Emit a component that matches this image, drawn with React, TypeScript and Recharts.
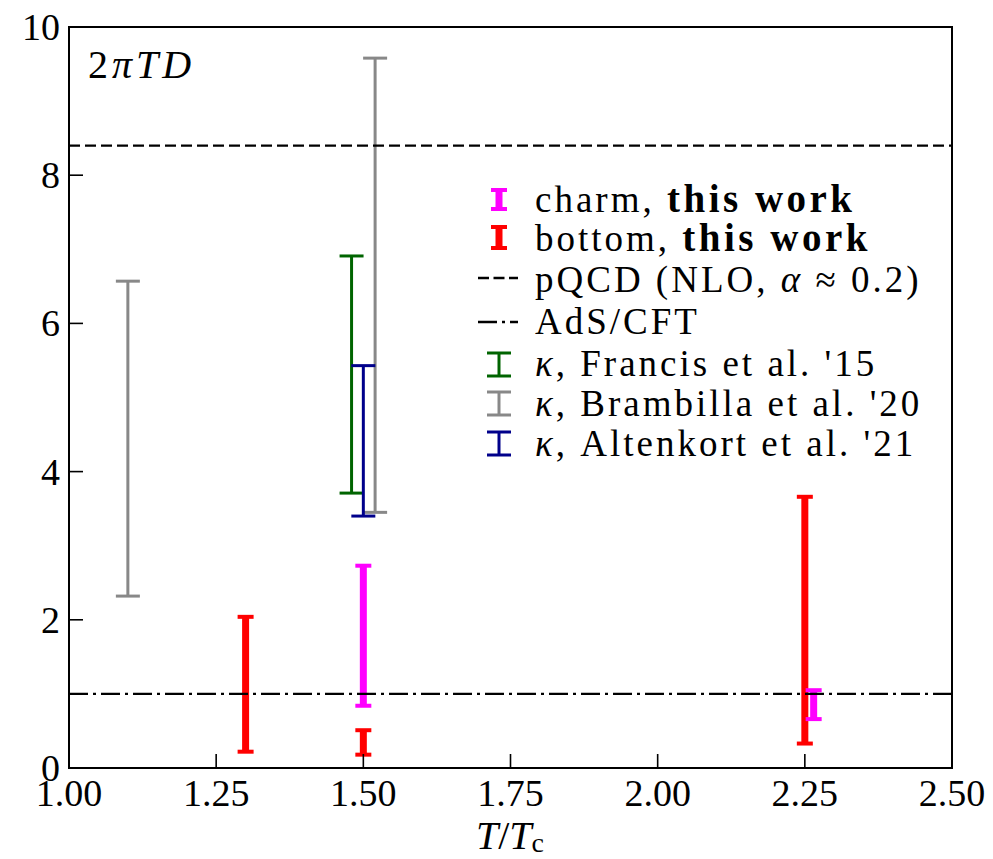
import React from 'react';
import { ComposedChart, Scatter, XAxis, YAxis, ErrorBar, ReferenceLine, ReferenceArea } from 'recharts';

// T/Tc positions and 2πTD ranges (low, high)
const charmT = [1.5, 2.265];
const charmLow = [0.84, 0.66];
const charmHigh = [2.73, 1.05];

const bottomT = [1.3, 1.5, 2.25];
const bottomLow = [0.22, 0.18, 0.33];
const bottomHigh = [2.04, 0.51, 3.66];

const francisT = [1.48];
const francisLow = [3.71];
const francisHigh = [6.91];

const brambillaT = [1.1, 1.52];
const brambillaLow = [2.32, 3.45];
const brambillaHigh = [6.57, 9.58];

const altenkortT = [1.5];
const altenkortLow = [3.4];
const altenkortHigh = [5.43];

const pqcdValue = 8.4;
const adsCftValue = 1.0;

const xTicks = [1.0, 1.25, 1.5, 1.75, 2.0, 2.25, 2.5];
const yTicks = [0, 2, 4, 6, 8, 10];

const FONT = "'Liberation Serif', 'Times New Roman', serif";

function toBars(t: number[], lo: number[], hi: number[]) {
  return t.map((x, i) => ({ x, y: (lo[i] + hi[i]) / 2, err: (hi[i] - lo[i]) / 2 }));
}

const charmData = toBars(charmT, charmLow, charmHigh);
const bottomData = toBars(bottomT, bottomLow, bottomHigh);
const francisData = toBars(francisT, francisLow, francisHigh);
const brambillaData = toBars(brambillaT, brambillaLow, brambillaHigh);
const altenkortData = toBars(altenkortT, altenkortLow, altenkortHigh);

const NoShape = () => <g />;

const XTick = (props: any) => {
  const { x, y, payload } = props;
  return (
    <g>
      <line x1={x} x2={x} y1={y} y2={y - 14} stroke="#000" strokeWidth={1.6} />
      <text x={x} y={y + 38} textAnchor="middle" fontSize={38} fontFamily={FONT} fill="#000">
        {Number(payload.value).toFixed(2)}
      </text>
    </g>
  );
};

const YTick = (props: any) => {
  const { x, y, payload } = props;
  return (
    <g>
      <line x1={x} x2={x + 14} y1={y} y2={y} stroke="#000" strokeWidth={1.6} />
      <text x={x - 9} y={y + 13} textAnchor="end" fontSize={38} fontFamily={FONT} fill="#000">
        {String(payload.value)}
      </text>
    </g>
  );
};

const ThickI = ({ cx, y1, y2, color }: { cx: number; y1: number; y2: number; color: string }) => (
  <g>
    <line x1={cx} x2={cx} y1={y1} y2={y2} stroke={color} strokeWidth={7} />
    <line x1={cx - 8} x2={cx + 8} y1={y1} y2={y1} stroke={color} strokeWidth={4} />
    <line x1={cx - 8} x2={cx + 8} y1={y2} y2={y2} stroke={color} strokeWidth={4} />
  </g>
);

const ThinI = ({ cx, y1, y2, color }: { cx: number; y1: number; y2: number; color: string }) => (
  <g>
    <line x1={cx} x2={cx} y1={y1} y2={y2} stroke={color} strokeWidth={3} />
    <line x1={cx - 12} x2={cx + 12} y1={y1} y2={y1} stroke={color} strokeWidth={3} />
    <line x1={cx - 12} x2={cx + 12} y1={y2} y2={y2} stroke={color} strokeWidth={3} />
  </g>
);

export default function App() {
  const legendX = 535;
  const legendFont = 37;
  const ls = 3;
  const bls = 3.5;
  return (
    <div style={{ position: 'relative', width: 993, height: 859, margin: '-8px -8px 0 -8px' }}>
      <ComposedChart width={993} height={859} margin={{ top: 27, right: 41, bottom: 31, left: 9 }}>
        <XAxis
          type="number"
          dataKey="x"
          domain={[1, 2.5]}
          ticks={xTicks}
          interval={0}
          height={60}
          allowDataOverflow
          axisLine={false}
          tickLine={false}
          tickSize={0}
          tickMargin={0}
          tick={<XTick />}
        />
        <YAxis
          type="number"
          dataKey="y"
          domain={[0, 10]}
          ticks={yTicks}
          interval={0}
          width={60}
          allowDataOverflow
          axisLine={false}
          tickLine={false}
          tickSize={0}
          tickMargin={0}
          tick={<YTick />}
        />
        <ReferenceArea x1={1} x2={2.5} y1={0} y2={10} fill="none" fillOpacity={0} stroke="#000" strokeWidth={2} />
        <Scatter data={bottomData} shape={NoShape} isAnimationActive={false}>
          <ErrorBar dataKey="err" direction="y" width={0} stroke="#ff0000" strokeWidth={7} isAnimationActive={false} />
          <ErrorBar dataKey="err" direction="y" width={8} stroke="#ff0000" strokeWidth={4} isAnimationActive={false} />
        </Scatter>
        <Scatter data={charmData} shape={NoShape} isAnimationActive={false}>
          <ErrorBar dataKey="err" direction="y" width={0} stroke="#ff00ff" strokeWidth={7} isAnimationActive={false} />
          <ErrorBar dataKey="err" direction="y" width={8} stroke="#ff00ff" strokeWidth={4} isAnimationActive={false} />
        </Scatter>
        <Scatter data={francisData} shape={NoShape} isAnimationActive={false}>
          <ErrorBar dataKey="err" direction="y" width={12} stroke="#006400" strokeWidth={3} isAnimationActive={false} />
        </Scatter>
        <Scatter data={brambillaData} shape={NoShape} isAnimationActive={false}>
          <ErrorBar dataKey="err" direction="y" width={12} stroke="#888888" strokeWidth={3} isAnimationActive={false} />
        </Scatter>
        <Scatter data={altenkortData} shape={NoShape} isAnimationActive={false}>
          <ErrorBar dataKey="err" direction="y" width={12} stroke="#00008b" strokeWidth={3} isAnimationActive={false} />
        </Scatter>
        <ReferenceLine y={pqcdValue} stroke="#000" strokeWidth={2.3} strokeDasharray="11 5" />
        <ReferenceLine y={adsCftValue} stroke="#000" strokeWidth={2.3} strokeDasharray="19 5 3 5" />
      </ComposedChart>
      <svg
        width={993}
        height={859}
        style={{ position: 'absolute', left: 0, top: 0, pointerEvents: 'none' }}
        fontFamily={FONT}
      >
        <text x={88} y={78} fontSize={40} letterSpacing={4} fill="#000">
          <tspan>2</tspan>
          <tspan fontStyle="italic">πTD</tspan>
        </text>
        <text x={510} y={849} fontSize={40} textAnchor="middle" fill="#000">
          <tspan fontStyle="italic">T</tspan>
          <tspan>/</tspan>
          <tspan fontStyle="italic">T</tspan>
          <tspan fontSize={28} dy={3}>c</tspan>
        </text>

        {/* legend */}
        <ThickI cx={499} y1={190} y2={209} color="#ff00ff" />
        <text x={legendX} y={212} fontSize={legendFont} letterSpacing={ls} fill="#000">
          <tspan>charm, </tspan>
          <tspan fontWeight="bold" fontSize={39} letterSpacing={bls}>this work</tspan>
        </text>
        <ThickI cx={499} y1={227} y2={248} color="#ff0000" />
        <text x={legendX} y={251} fontSize={legendFont} letterSpacing={ls} fill="#000">
          <tspan>bottom, </tspan>
          <tspan fontWeight="bold" fontSize={39} letterSpacing={bls}>this work</tspan>
        </text>
        <line x1={478} x2={518} y1={278} y2={278} stroke="#000" strokeWidth={2.3} strokeDasharray="11 4.5" />
        <text x={legendX} y={292} fontSize={legendFont} letterSpacing={ls} fill="#000">
          <tspan>pQCD (NLO, </tspan>
          <tspan fontStyle="italic">α</tspan>
          <tspan> ≈ 0.2)</tspan>
        </text>
        <line x1={478} x2={518} y1={322} y2={322} stroke="#000" strokeWidth={2.3} strokeDasharray="19 5 3 5" />
        <text x={legendX} y={334} fontSize={legendFont} letterSpacing={ls} fill="#000">
          AdS/CFT
        </text>
        <ThinI cx={499} y1={353} y2={376} color="#006400" />
        <text x={legendX} y={376} fontSize={legendFont} letterSpacing={ls} fill="#000">
          <tspan fontStyle="italic">κ</tspan>
          <tspan>, Francis et al. '15</tspan>
        </text>
        <ThinI cx={499} y1={392} y2={415} color="#888888" />
        <text x={legendX} y={416} fontSize={legendFont} letterSpacing={ls} fill="#000">
          <tspan fontStyle="italic">κ</tspan>
          <tspan>, Brambilla et al. '20</tspan>
        </text>
        <ThinI cx={499} y1={432} y2={455} color="#00008b" />
        <text x={legendX} y={456} fontSize={legendFont} letterSpacing={ls} fill="#000">
          <tspan fontStyle="italic">κ</tspan>
          <tspan>, Altenkort et al. '21</tspan>
        </text>
      </svg>
    </div>
  );
}
